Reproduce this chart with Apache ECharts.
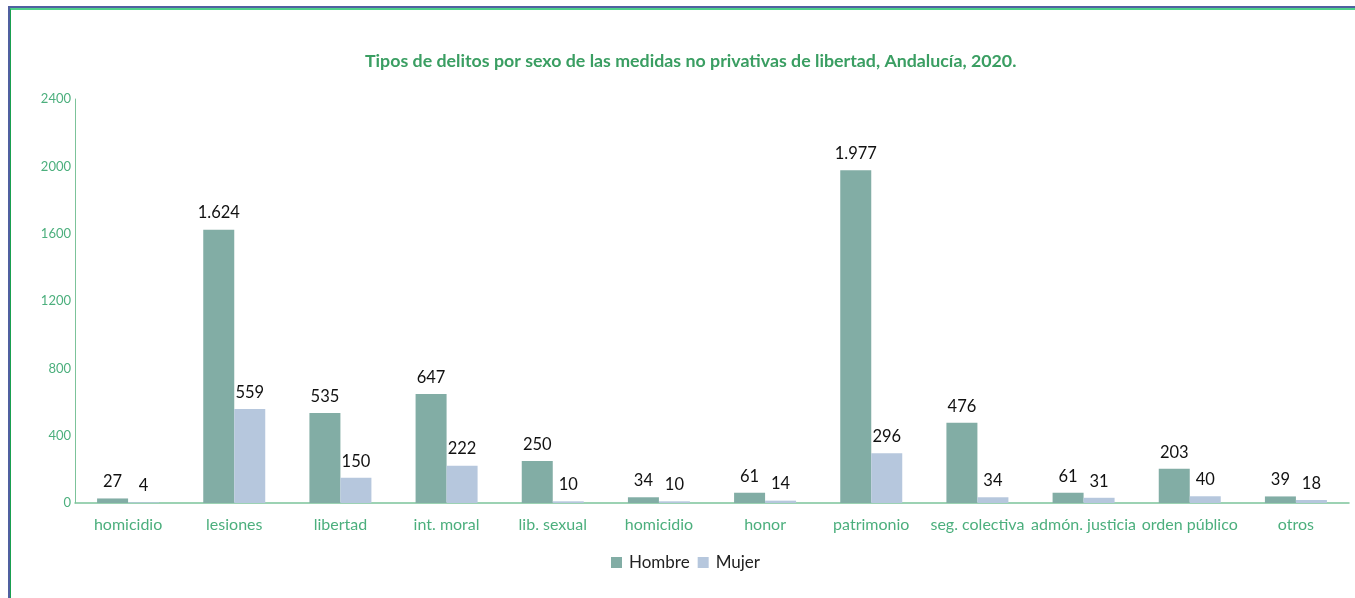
<!DOCTYPE html>
<html>
<head>
<meta charset="utf-8">
<script src="https://cdn.jsdelivr.net/npm/echarts@6/dist/echarts.min.js"></script>
<style>
  html, body { margin: 0; padding: 0; background: #fff; }
  #frame { position: absolute; left: 8px; top: 6px; width: 1347px; height: 592px;
    border-top: 2px solid #5060a0; border-left: 2px solid #5060a0; box-sizing: border-box; }
  #frame2 { position: absolute; left: 10px; top: 8px; width: 1345px; height: 590px;
    border-top: 2px solid #4fd08a; border-left: 1px solid #1aa050; box-sizing: border-box; }
  #chart { position: absolute; left: 0; top: 0; width: 1355px; height: 598px; }
</style>
</head>
<body>
<div id="frame"></div>
<div id="frame2"></div>
<div id="chart"></div>
<script>
var categories = ['homicidio', 'lesiones', 'libertad', 'int. moral', 'lib. sexual', 'homicidio',
    'honor', 'patrimonio', 'seg. colectiva', 'admón. justicia', 'orden público', 'otros'];
var hombre = [27, 1624, 535, 647, 250, 34, 61, 1977, 476, 61, 203, 39];
var mujer = [4, 559, 150, 222, 10, 10, 14, 296, 34, 31, 40, 18];
var yTicks = [0, 400, 800, 1200, 1600, 2000, 2400];

function fmt(v) {
    return String(v).replace(/\B(?=(\d{3})+(?!\d))/g, '.');
}

var myChart = echarts.init(document.getElementById('chart'));
var green = '#4caf7d';
var option = {
    animation: false,
    textStyle: { fontFamily: 'Lato' },
    title: {
        text: 'Tipos de delitos por sexo de las medidas no privativas de libertad, Andalucía, 2020.',
        left: 360,
        top: 47,
        textStyle: { color: '#3a9e62', fontSize: 17.8, fontWeight: 'bold', fontFamily: 'Lato' }
    },
    legend: {
        bottom: 22,
        left: 606,
        itemWidth: 11,
        itemHeight: 11,
        itemGap: 8,
        icon: 'rect',
        textStyle: { fontSize: 17, color: '#222', fontFamily: 'Lato', padding: [0, 0, 0, 2] },
        data: ['Hombre', 'Mujer']
    },
    grid: { left: 75, right: 6, top: 99, bottom: 95, containLabel: false },
    xAxis: {
        type: 'category',
        data: categories,
        axisLine: { lineStyle: { color: '#7cc39a', width: 1.5 } },
        axisTick: { show: false },
        axisLabel: { color: green, fontSize: 16, margin: 14, interval: 0, fontFamily: 'Lato' }
    },
    yAxis: {
        type: 'value',
        min: yTicks[0],
        max: yTicks[yTicks.length - 1],
        interval: 400,
        splitLine: { show: false },
        axisLine: { show: true, lineStyle: { color: '#7cc39a' } },
        axisTick: { show: false },
        axisLabel: { color: green, fontSize: 13, margin: 4, fontFamily: 'Lato',
            formatter: function (v) { return String(v); } }
    },
    series: [
        {
            name: 'Hombre',
            type: 'bar',
            data: hombre,
            barWidth: 31,
            barGap: '0%',
            itemStyle: { color: '#82ada5' },
            label: { show: true, position: 'top', distance: 8, color: '#111', fontSize: 16.5,
                fontFamily: 'Lato', formatter: function (p) { return fmt(p.value); } }
        },
        {
            name: 'Mujer',
            type: 'bar',
            data: mujer,
            barWidth: 31,
            itemStyle: { color: '#b6c7dd' },
            label: { show: true, position: 'top', distance: 8, color: '#111', fontSize: 16.5,
                fontFamily: 'Lato', formatter: function (p) { return fmt(p.value); } }
        }
    ]
};
myChart.setOption(option);
window.addEventListener('resize', function () {
    myChart.resize();
});
</script>
</body>
</html>
